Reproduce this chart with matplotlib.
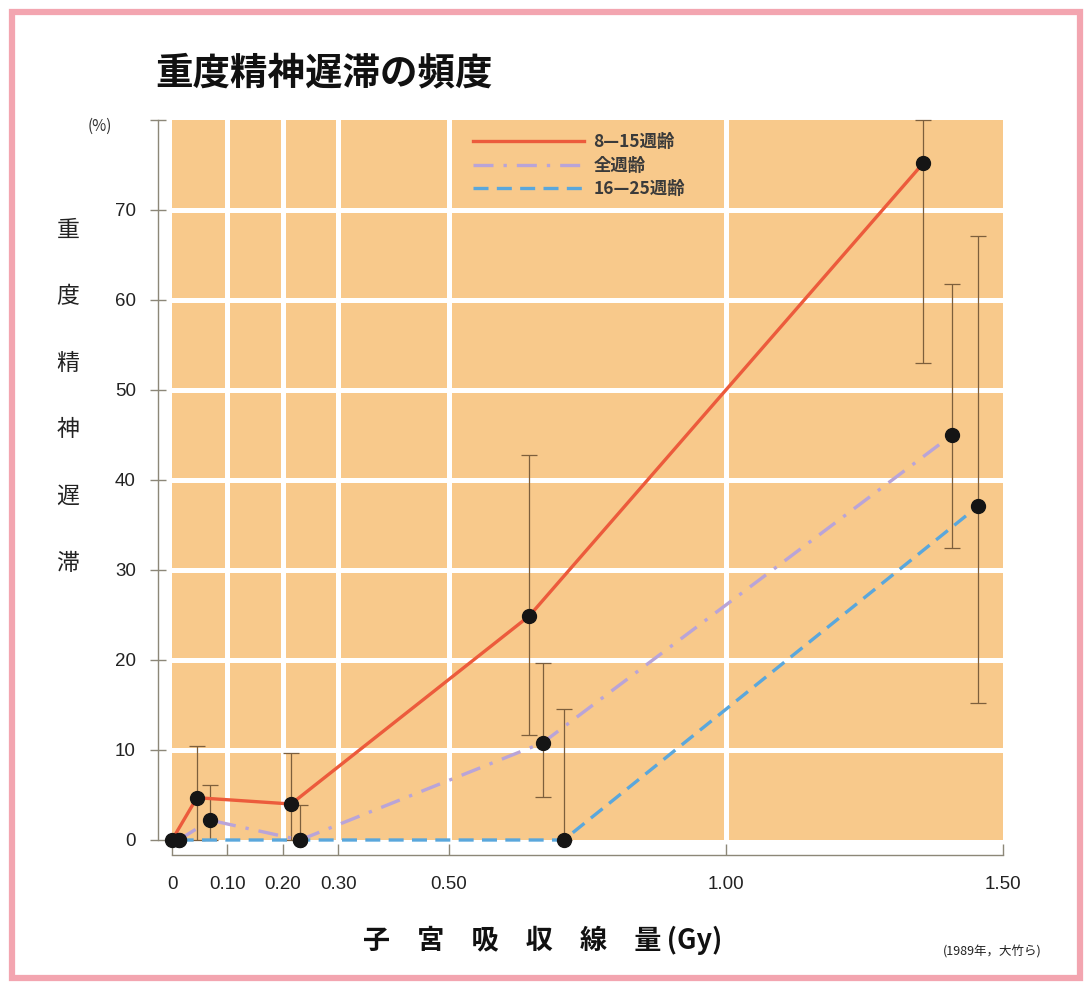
import matplotlib
matplotlib.use("Agg")
import matplotlib.pyplot as plt
from matplotlib.patches import Rectangle

plt.rcParams['font.family'] = ['Noto Sans CJK JP', 'DejaVu Sans']

# data (dose in Gy, frequency in %)
red_x = [0, 0.045, 0.215, 0.645, 1.356]
red_y = [0, 4.7, 4.0, 24.9, 75.2]
purple_x = [0.012, 0.069, 0.231, 0.669, 1.408]
purple_y = [0, 2.2, 0, 10.8, 45.0]
blue_x = [0.012, 0.231, 0.707, 1.455]
blue_y = [0, 0, 0, 37.1]

err_x = [0.045, 0.069, 0.215, 0.231, 0.645, 0.669, 0.707, 1.356, 1.408, 1.455]
err_y = [4.7, 2.2, 4.0, 0, 24.9, 10.8, 0, 75.2, 45.0, 37.1]
err_lo = [0, 0, 0, 0, 11.7, 4.8, 0, 53.0, 32.5, 15.2]
err_hi = [10.5, 6.1, 9.7, 3.9, 42.8, 19.7, 14.6, 80, 61.8, 67.1]

labels = ['8\u201415週齢', '全週齢', '16\u201425週齢']
xticks = [0, 0.10, 0.20, 0.30, 0.50, 1.00, 1.50]
xticklabels = ['0', '0.10', '0.20', '0.30', '0.50', '1.00', '1.50']
yticks = [0, 10, 20, 30, 40, 50, 60, 70, 80]

orange = '#F8C98B'
red = '#EC5B3C'
purple = '#B9A4D8'
blue = '#5AA7DC'
axcol = '#8c8778'
numfont = ['Liberation Sans', 'DejaVu Sans']

fig = plt.figure(figsize=(10.88, 9.85), dpi=100)
ax = fig.add_axes([172/1088, 1 - 840/985, 831/1088, 720/985])
ax.set_facecolor(orange)
ax.set_xlim(0, 1.5)
ax.set_ylim(0, 80)

# white grid
for g in xticks[1:-1]:
    ax.axvline(g, color='white', lw=3.6, zorder=1)
for g in yticks[1:-1]:
    ax.axhline(g, color='white', lw=3.6, zorder=1)

ax.plot(red_x, red_y, color=red, lw=2.4, label=labels[0], zorder=3, clip_on=False)
ax.plot(purple_x, purple_y, color=purple, lw=2.4, ls=(0, (6, 3, 1, 3)),
        label=labels[1], zorder=3, clip_on=False)
ax.plot(blue_x, blue_y, color=blue, lw=2.4, ls=(0, (4.5, 2.5)),
        label=labels[2], zorder=3, clip_on=False)

lo = [y - l for y, l in zip(err_y, err_lo)]
hi = [h - y for y, h in zip(err_y, err_hi)]
ax.errorbar(err_x, err_y, yerr=[lo, hi], fmt='none', ecolor='#7d5f3c',
            elinewidth=0.9, capsize=6, capthick=0.9, zorder=2, clip_on=False)

for xs, ys in [(red_x, red_y), (purple_x, purple_y), (blue_x, blue_y)]:
    ax.plot(xs, ys, 'o', color='#151515', ms=10, ls='none', zorder=5, clip_on=False)

# axes styling
for s in ['top', 'right']:
    ax.spines[s].set_visible(False)
ax.spines['left'].set_position(('outward', 10))
ax.spines['bottom'].set_position(('outward', 11))
ax.spines['left'].set_bounds(0, 80)
ax.spines['bottom'].set_bounds(0, 1.5)
for s in ['left', 'bottom']:
    ax.spines[s].set_color(axcol)
    ax.spines[s].set_linewidth(1.0)

ax.set_yticks(yticks)
ax.set_yticklabels([str(v) if v < 80 else '' for v in yticks], family=numfont)
ax.set_xticks(xticks)
ax.set_xticklabels(xticklabels, family=numfont)
ax.tick_params(axis='y', direction='inout', length=12, width=1.0, color=axcol,
               labelsize=13.5, pad=10, labelcolor='#222222')
ax.tick_params(axis='x', direction='in', length=8, width=1.0, color=axcol,
               labelsize=13.5, pad=15, labelcolor='#222222')

leg = ax.legend(loc='upper left', bbox_to_anchor=(0.343, 1.003), frameon=False,
                handlelength=6.4, handletextpad=0.55, labelspacing=0.3,
                prop={'size': 12.5, 'weight': 'bold'})
for t in leg.get_texts():
    t.set_color('#3a3a3a')

# texts
fig.text(155/1088, 1 - 73/985, '重度精神遅滞の頻度', fontsize=27, fontweight='bold',
         va='center', ha='left', color='#111111')
fig.text(100/1088, 1 - 126/985, '(%)', fontsize=11, va='center', ha='center',
         color='#333333')
for i, ch in enumerate('重度精神遅滞'):
    fig.text(68/1088, 1 - (230 + 66.6 * i)/985, ch, fontsize=16.5, va='center',
             ha='center', color='#222222')
fig.text(543/1088, 1 - 940/985, '子\u3000宮\u3000吸\u3000収\u3000線\u3000量\u2009(Gy)',
         fontsize=19.5, fontweight='bold', va='center', ha='center', color='#111111',
         family=['Noto Sans CJK JP', 'DejaVu Sans'])
fig.text(1042/1088, 1 - 952/985, '(1989年，大竹ら)', fontsize=9,
         va='center', ha='right', color='#222222')

# pink frame
fig.patches.append(Rectangle((12/1088, 1 - 978/985), 1068/1088, 966/985,
                             transform=fig.transFigure, fill=False,
                             edgecolor='#F3A5B0', lw=4.5))

fig.savefig('out.png', dpi=100)
